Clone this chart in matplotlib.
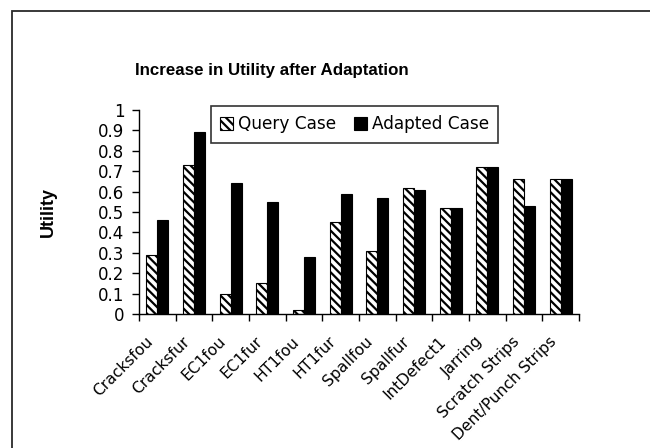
import matplotlib
matplotlib.use("Agg")
import matplotlib.pyplot as plt
import matplotlib.patches as mpatches
import matplotlib.transforms as mtransforms
import numpy as np

categories = ["Cracksfou", "Cracksfur", "EC1fou", "EC1fur", "HT1fou", "HT1fur",
              "Spallfou", "Spallfur", "IntDefect1", "Jarring", "Scratch Strips",
              "Dent/Punch Strips"]
query_case = [0.29, 0.73, 0.10, 0.15, 0.02, 0.45, 0.31, 0.62, 0.52, 0.72, 0.66, 0.66]
adapted_case = [0.46, 0.89, 0.64, 0.55, 0.28, 0.59, 0.57, 0.61, 0.52, 0.72, 0.53, 0.66]
y_ticks = [0, 0.1, 0.2, 0.3, 0.4, 0.5, 0.6, 0.7, 0.8, 0.9, 1]
y_tick_labels = ["0", "0.1", "0.2", "0.3", "0.4", "0.5", "0.6", "0.7", "0.8", "0.9", "1"]

plt.rcParams["font.family"] = ["DejaVu Sans"]
plt.rcParams["hatch.linewidth"] = 1.6
plt.rcParams["hatch.color"] = "black"

W, H = 650, 448
fig = plt.figure(figsize=(W / 100, H / 100), dpi=100)
fig.patch.set_facecolor("white")

# chart-area border
fig.patches.append(mpatches.Rectangle((12 / W, -0.1), 1.2, (H - 11) / H + 0.1,
                                      transform=fig.transFigure, fill=False,
                                      edgecolor="#2a2a2a", linewidth=1.3))

ax = fig.add_axes([139 / W, (H - 314) / H, 440 / W, 204 / H])

x = np.arange(len(categories)) + 0.5
bw = 0.3
ax.bar(x - bw / 2, query_case, bw, facecolor="white", edgecolor="black",
       hatch="\\\\\\\\", linewidth=0.8, label="Query Case")
ax.bar(x + bw / 2, adapted_case, bw, facecolor="black", edgecolor="black",
       linewidth=0.8, label="Adapted Case")

ax.set_xlim(0, len(categories))
ax.set_ylim(0, 1)
ax.set_yticks(y_ticks)
ax.set_yticklabels(y_tick_labels, fontsize=12)

ax.set_xticks(np.arange(len(categories) + 1))
ax.set_xticklabels([])
ax.set_xticks(x, minor=True)
ax.set_xticklabels(categories, minor=True, rotation=45, ha="right",
                   va="center", rotation_mode="anchor", fontsize=11.2)
ax.tick_params(axis="x", which="minor", length=0, pad=0)
ax.tick_params(axis="x", which="major", direction="out", length=5, width=1)
ax.tick_params(axis="y", direction="out", length=5, width=1, pad=5.5)

shift = mtransforms.ScaledTranslation(-7 / 100, -25 / 100, fig.dpi_scale_trans)
for lbl in ax.get_xticklabels(minor=True):
    lbl.set_transform(lbl.get_transform() + shift)

for side in ("top", "right"):
    ax.spines[side].set_visible(False)
for side in ("left", "bottom"):
    ax.spines[side].set_linewidth(1)

leg = ax.legend(loc="upper left", bbox_to_anchor=(211 / W, (H - 106) / H),
                bbox_transform=fig.transFigure, ncol=2, fontsize=12.2,
                frameon=True, fancybox=False, edgecolor="black",
                handlelength=0.75, handleheight=0.75, handletextpad=0.3,
                columnspacing=1.05, borderpad=0.55, borderaxespad=0)
leg.get_frame().set_linewidth(1.2)

fig.text(272 / W, (H - 70) / H, "Increase in Utility after Adaptation",
         ha="center", va="center", fontsize=12.2, fontweight="bold",
         family=["Liberation Sans Narrow", "Liberation Sans"])
fig.text(48 / W, (H - 212) / H, "Utility", rotation=90, ha="center",
         va="center", fontsize=13, fontweight="bold",
         family=["Liberation Sans"])

fig.savefig("out.png", dpi=100, facecolor="white")
